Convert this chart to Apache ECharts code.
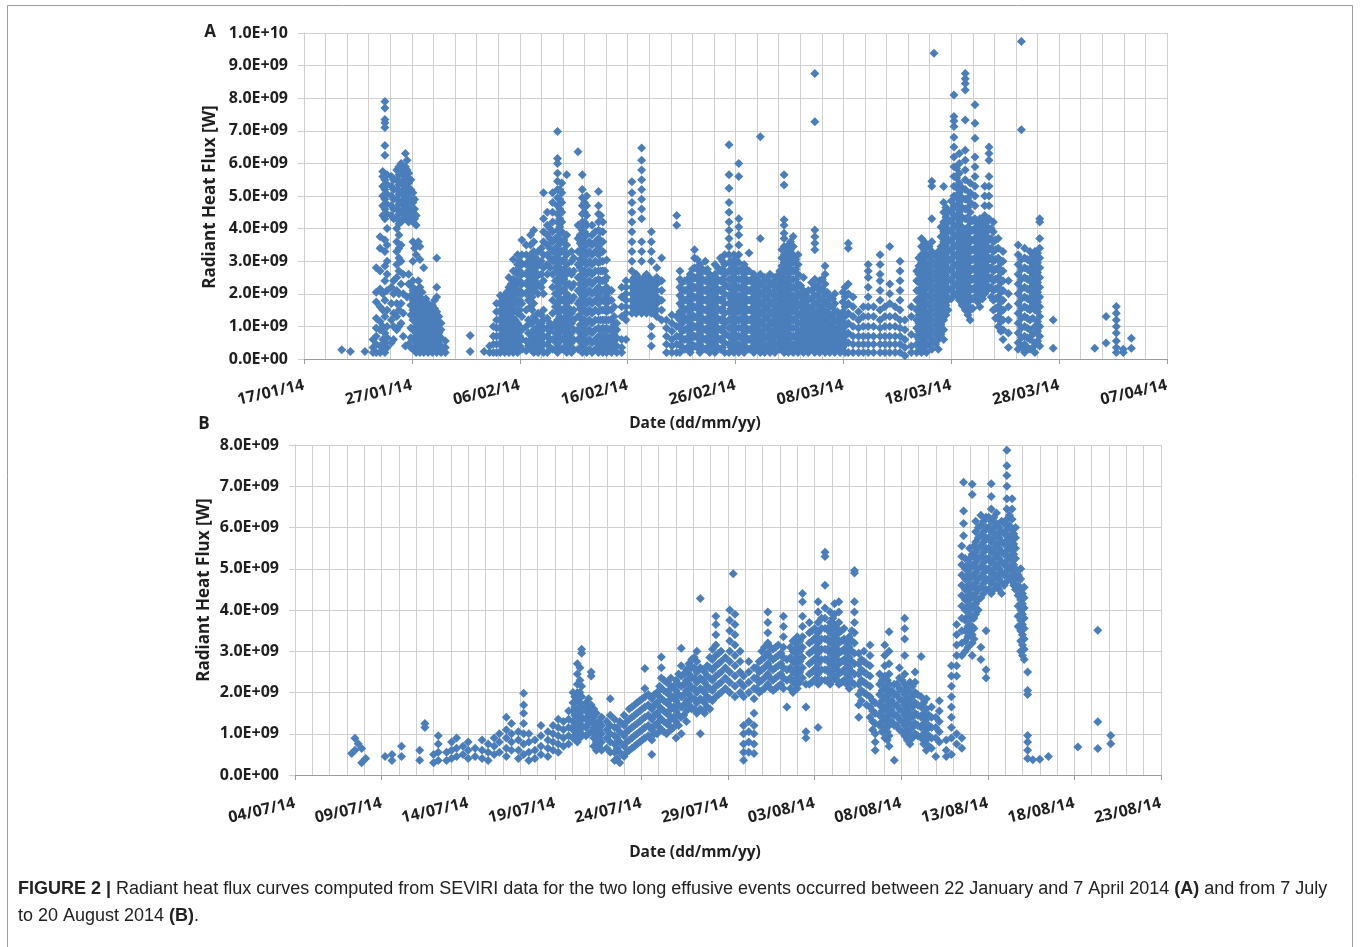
<!DOCTYPE html>
<html>
<head>
<meta charset="utf-8">
<script src="https://cdn.jsdelivr.net/npm/echarts@6/dist/echarts.min.js"></script>
<style>
  html, body { margin: 0; padding: 0; background: #ffffff; }
  #chart { width: 1360px; height: 947px; }
</style>
</head>
<body>
<div id="chart"></div>
<script>
// Radiant heat flux (SEVIRI) — values in units of 1e9 W.
// Each row: [days since axis start, flux value, flux value, ...]

// Panel A: axis starts 17/01/14
const fluxA_jan = [
  [3.5,0.28],[4.3,0.23],[5.65,0.23],
  [6.4,0.2,0.35,0.6],
  [6.7,0.2,0.45,0.7,0.95,1.25,1.75,2.05,2.8],
  [7.05,0.2,0.4,0.9,1.15,1.6,2.15,2.7,3.4,3.75],
  [7.3,0.3,0.6,1.0,1.5,2.0,4.4,4.7,5.0,5.3,5.6,5.75],
  [7.5,0.2,0.5,0.8,1.3,1.8,2.4,2.85,3.3,3.65,4.3,4.6,4.9,5.2,5.5,6.25,6.55,7.1,7.25,7.35,7.7,7.9],
  [7.7,0.35,0.65,1.0,1.5,2.1,2.6,3.0,3.5,4.0,4.45,4.75,5.05,5.35,5.65],
  [8.1,0.5,1.2,1.7,2.2,4.4,4.7,5.0,5.3,5.6],
  [8.3,0.6,1.0,1.4,2.0,2.4,4.3,4.6,4.9,5.2,5.5],
  [8.6,0.9,1.3,1.7,2.1,2.5,2.9,3.3,3.6,4.0,4.3,4.6,4.9,5.2,5.5,5.8],
  [8.8,1.0,1.5,2.0,2.7,3.1,3.4,3.8,4.15,4.45,4.75,5.05,5.35,5.65,5.9],
  [9.0,1.1,1.7,2.3,3.0,3.5,4.2,4.5,4.8,5.1,5.4,5.7,6.0],
  [9.2,0.7,1.4,2.0,2.6,4.3,4.6,4.9,5.2,5.5,5.8],
  [9.4,0.4,4.4,4.7,5.0,5.3,5.6,5.9,6.3],
  [9.55,1.9,4.3,4.6,4.9,5.2,5.5,5.8,6.1],
  [9.7,0.45,2.3,2.6,4.2,4.5,4.8,5.1,5.4,5.7],
  [9.9,0.35,0.65,0.95,1.35,1.65,1.95,2.25,4.3,4.6,4.9,5.2,5.5],
  [10.1,0.3,0.6,0.9,1.2,1.5,1.8,2.1,2.4,3.0,3.6,4.2,4.5,4.8,5.1],
  [10.25,0.35,0.65,0.95,1.25,1.55,1.85,2.15,3.4,4.3,4.6,4.9],
  [10.4,0.2,0.5,0.8,1.1,1.4,1.7,2.0,3.2,3.5,4.1,4.4],
  [10.6,0.3,0.6,0.9,1.2,1.5,1.8,2.1,2.4,3.6],
  [10.75,0.2,0.45,0.7,1.0,1.3,1.6,1.9,2.2,3.05,3.45],
  [10.95,0.3,0.55,0.85,1.15,1.45,1.75,2.05],
  [11.1,0.2,0.45,0.7,0.95,1.2,1.5,1.75,2.8],
  [11.3,0.3,0.55,0.85,1.1,1.35,1.6,1.85],
  [11.5,0.2,0.45,0.7,0.95,1.2,1.45,1.7],
  [11.7,0.3,0.55,0.8,1.05,1.3,1.55],
  [11.9,0.2,0.4,0.65,0.9,1.15,1.4,1.65],
  [12.1,0.3,0.55,0.8,1.05,1.3,1.55,1.8],
  [12.3,0.2,0.45,0.7,0.95,1.2,1.45,1.9,2.2,3.1],
  [12.5,0.3,0.55,0.8,1.05,1.3],
  [12.7,0.2,0.4,0.65,0.9,1.1],
  [13.1,0.2,0.35,0.55],
  [15.4,0.23,0.72],[16.7,0.23]
];

const fluxA_feb = [
  [17.2,0.2,0.4],
  [17.55,0.2,0.45,0.7,1.0],
  [17.85,0.2,0.45,0.7,0.95,1.2,1.45,1.7],
  [18.2,0.2,0.45,0.7,0.95,1.2,1.45,1.7,1.95],
  [18.4,0.3,0.55,0.8,1.05,1.3,1.55,1.8],
  [18.6,0.2,0.45,0.7,0.95,1.2,1.45,1.7,1.95],
  [18.8,0.3,0.55,0.8,1.05,1.3,1.55,1.8,2.05],
  [19.0,0.2,0.45,0.7,0.95,1.2,1.45,1.7,1.95,2.2,2.5],
  [19.2,0.3,0.55,0.8,1.05,1.3,1.55,1.8,2.05,2.3],
  [19.4,0.2,0.45,0.7,0.95,1.2,1.45,1.7,1.95,2.2,2.45,2.7,3.05],
  [19.6,0.3,0.6,0.9,1.2,1.5,1.8,2.1,2.4,2.7],
  [19.8,0.2,0.5,0.8,1.1,1.4,1.7,2.0,2.3,2.6,2.9,3.2],
  [20.0,0.4,0.7,1.0,1.5,1.8,2.1,2.4,2.7,3.0],
  [20.2,0.3,0.6,0.9,1.3,1.7,2.0,2.3,2.6,2.9,3.2,3.65],
  [20.6,0.25,0.55,1.0,1.5,2.0,2.3,2.6,2.9,3.2,3.5],
  [20.8,0.4,0.8,1.2,1.8,2.1,2.4,2.7,3.0],
  [21.0,0.3,0.6,1.1,1.6,2.0,2.3,2.6,2.9,3.2,3.5,3.8],
  [21.15,0.4,0.7,1.1,1.5,1.9,2.2,2.5,2.8,3.1],
  [21.3,0.2,0.5,0.9,1.3,1.7,2.1,2.4,2.7,3.0,3.3,3.6,3.95],
  [21.5,0.3,0.6,0.85,1.2,2.2,2.5,2.8,3.1],
  [21.7,0.2,0.45,0.7,1.0,1.4,2.0,2.3,2.6,2.9,3.3],
  [22.0,0.3,0.6,0.85,1.1,1.35,2.2,2.6,3.0,3.4],
  [22.2,0.2,0.45,0.7,0.95,1.2,1.5,2.0,2.4,2.8,3.2,3.6,3.9,4.3,5.1],
  [22.55,0.2,0.45,0.7,0.95,1.25,2.6,2.9,3.2,3.5,3.8,4.1,4.5],
  [22.8,0.35,0.6,0.85,1.1,2.8,3.1,3.4,3.7,4.0],
  [23.05,0.3,0.6,1.0,1.4,1.8,2.2,2.6,3.0,3.3,3.6,3.9,4.2,4.5,4.8,5.1],
  [23.3,0.3,0.55,0.8,1.1,1.6,2.0,2.4,2.8,3.1,3.4,3.7],
  [23.5,0.2,0.45,0.7,0.95,1.2,1.45,1.7,1.95,2.2,2.45,2.7,2.95,3.2,3.45,3.7,3.95,4.2,4.45,4.7,4.95,5.2,5.45,5.7,6.0,6.15,6.98],
  [23.7,0.3,0.55,0.8,1.05,1.3,1.55,1.8,2.05,2.3,2.55,2.8,3.05,3.3,3.55,3.8,4.05,4.3,4.6,4.9,5.2],
  [23.9,0.3,0.6,0.9,1.2,1.5,1.8,2.1,2.4,2.7,3.0,3.3,3.6,3.9,4.2,4.5,4.8,5.1,5.4],
  [24.1,0.35,0.65,0.95,1.25,1.55,1.85,2.15,2.45,2.75,3.05,3.35,3.65],
  [24.35,0.2,0.5,0.8,1.1,1.4,1.7,2.0,2.3,2.6,2.9,3.2,3.5,3.8,5.65],
  [24.6,0.35,0.65,0.95,1.25,1.55,1.9,2.3,2.7],
  [24.8,0.2,0.5,0.8,1.1,1.4,1.8,2.2,2.6,3.0,3.3],
  [25.0,0.3,0.6,0.9,1.2,1.5,1.9,2.3,2.7,3.1],
  [25.4,0.3,0.6,0.9,1.3,1.7,2.1,2.5,2.9,3.3,3.7,4.1,6.36],
  [25.6,0.3,0.55,0.8,1.05,1.3,1.55,1.8,2.05,2.3,2.55,2.8,3.05,3.3,3.55,3.8,4.05],
  [25.8,0.2,0.45,0.7,0.95,1.2,1.45,1.7,1.95,2.2,2.45,2.7,2.95,3.2,3.45,3.7,3.95,4.2,4.45,4.7,4.95,5.2,5.65],
  [26.0,0.3,0.6,0.9,1.2,1.5,1.8,2.1,2.4,2.7,3.0,3.3,3.6,3.9,4.2,4.5,4.8],
  [26.2,0.2,0.5,0.8,1.1,1.4,1.7,2.0,2.3,2.6,2.9,3.2,3.5,3.8,4.1,4.4,4.7,5.0],
  [26.45,0.3,0.6,0.9,1.2,1.5,1.8,2.1,2.4,2.7,3.0,3.3,3.6],
  [26.7,0.2,0.5,0.8,1.1,1.4,1.7,2.0,2.3,2.6,2.9,3.2,3.5,3.8,4.1],
  [27.0,0.3,0.6,0.9,1.2,1.5,1.8,2.1,2.4,2.7,3.0,3.3,3.6,3.9],
  [27.3,0.2,0.45,0.7,0.95,1.2,1.45,1.7,1.95,2.2,2.45,2.7,2.95,3.2,3.45,3.7,3.95,4.2,4.45,4.7,5.14],
  [27.5,0.3,0.6,0.9,1.2,1.5,1.8,2.1,2.4,2.7,3.0,3.3,3.6,3.9,4.4],
  [27.7,0.2,0.45,0.7,0.95,1.2,1.5,1.8,2.1,2.4,2.7,3.0,3.3,3.6,3.9,4.2],
  [27.9,0.3,0.6,0.9,1.2,1.5,1.8,2.1,2.4,2.7],
  [28.05,0.2,0.45,0.7,0.95,1.2,1.45,1.7,1.95,2.2,2.5,3.04],
  [28.25,0.3,0.6,0.9,1.2,1.5,1.8,2.1],
  [28.5,0.2,0.45,0.7,0.95,1.2,1.5,1.8,2.1],
  [28.75,0.3,0.55,0.8,1.05,1.3,1.6],
  [29.0,0.2,0.4,0.65,0.9,1.1],
  [29.45,0.2,0.35,0.6,1.3,1.6,1.9,2.2],
  [29.85,0.6,1.2,1.4,1.6,1.8,2.0,2.2,2.4],
  [30.4,1.4,1.6,1.8,2.0,2.2,2.4,2.7,3.0,3.3,3.6,3.9,4.2,4.5,4.8,5.1,5.44],
  [30.6,1.5,1.7,1.9,2.1,2.3,2.5],
  [30.8,1.4,1.6,1.8,2.0,2.2,2.4,2.6],
  [31.0,1.5,1.7,1.9,2.1,2.3,2.5],
  [31.3,1.4,1.6,1.8,2.0,2.2,2.4,3.0,3.3,3.6,4.3,4.6,4.9,5.2,5.5,5.8,6.1,6.47],
  [31.5,1.5,1.7,1.9,2.1,2.3,2.5],
  [31.75,1.4,1.6,1.8,2.0,2.2,2.4,2.6],
  [32.0,1.5,1.7,1.9,2.1,2.3,2.5],
  [32.2,0.4,0.7,1.0,1.4,1.6,1.8,2.0,2.2,2.4,3.0,3.3,3.6,3.9],
  [32.45,1.4,1.6,1.8,2.0,2.2,2.4],
  [32.7,1.3,1.5,1.7,1.9,2.1,2.3,2.5,2.8],
  [33.15,1.2,1.5,1.8,2.1,2.4,3.1],
  [33.6,0.2,0.45,0.7,0.95,1.2],
  [34.1,0.2,0.4,0.6,0.85,1.1,1.35],
  [34.55,0.2,0.45,0.7,1.0,1.3,4.1,4.4]
];

const fluxA_mar = [
  [34.85,0.2,0.45,0.7,0.95,1.2,1.45,1.7,1.95,2.2,2.45,2.7],
  [35.05,0.35,0.6,0.85,1.1,1.35,1.6,1.85,2.1,2.35],
  [35.3,0.3,0.6,0.9,1.2,1.5,1.8,2.1,2.4],
  [35.55,0.35,0.65,0.95,1.25,1.55,1.85,2.15,2.45],
  [35.8,0.2,0.5,0.8,1.1,1.4,1.7,2.0,2.3,2.6],
  [36.0,0.35,0.65,0.95,1.25,1.55,1.85,2.15,2.45,2.75],
  [36.2,0.4,0.7,1.0,1.3,1.6,1.9,2.2,2.5,2.8,3.1,3.35],
  [36.45,0.35,0.65,0.95,1.25,1.55,1.85,2.15,2.45,2.75,3.05],
  [36.7,0.2,0.5,0.8,1.1,1.4,1.7,2.0,2.3,2.6,2.9],
  [36.95,0.35,0.65,0.95,1.25,1.55,1.85,2.15,2.45,2.75],
  [37.2,0.3,0.6,0.9,1.2,1.5,1.8,2.1,2.4,2.7,3.0],
  [37.4,0.35,0.65,0.95,1.25,1.55,1.85,2.15,2.45,2.75],
  [37.6,0.2,0.5,0.8,1.1,1.4,1.7,2.0,2.3,2.6],
  [37.85,0.35,0.65,0.95,1.25,1.55,1.85,2.15,2.45],
  [38.1,0.2,0.5,0.8,1.1,1.4,1.7,2.0,2.3,2.6,2.9],
  [38.35,0.35,0.65,0.95,1.25,1.55,1.85,2.15,2.45,2.8],
  [38.6,0.3,0.6,0.9,1.2,1.5,1.8,2.1,2.4,2.7,3.1],
  [38.8,0.35,0.65,0.95,1.25,1.55,1.85,2.15,2.45,2.75,3.0],
  [39.0,0.2,0.5,0.8,1.1,1.4,1.7,2.0,2.3,2.6,2.9,3.2],
  [39.4,0.2,0.45,0.7,0.95,1.2,1.45,1.7,1.95,2.2,2.45,2.7,2.95,3.2,3.45,3.7,3.95,4.2,4.5,4.8,5.24,5.65,6.57],
  [39.6,0.35,0.65,0.95,1.25,1.55,1.85,2.15,2.45,2.75,3.0],
  [39.85,0.2,0.5,0.8,1.1,1.4,1.7,2.0,2.3,2.6,2.9,3.2],
  [40.05,0.35,0.65,0.95,1.25,1.55,1.85,2.15,2.45,2.75,3.05],
  [40.3,0.2,0.45,0.7,0.95,1.2,1.45,1.7,1.95,2.2,2.45,2.7,2.95,3.2,3.5,3.8,4.05,4.3,5.6,6.0],
  [40.55,0.35,0.65,0.95,1.25,1.55,1.85,2.15,2.45,2.75],
  [40.8,0.2,0.5,0.8,1.1,1.4,1.7,2.0,2.3,2.6,2.9],
  [41.0,0.35,0.65,0.95,1.25,1.55,1.85,2.15,2.45,2.75],
  [41.25,0.3,0.6,0.9,1.2,1.5,1.8,2.1,2.4,2.7,3.25],
  [41.5,0.35,0.65,0.95,1.25,1.55,1.85,2.15,2.45],
  [41.7,0.2,0.5,0.8,1.1,1.4,1.7,2.0,2.3,2.6],
  [42.0,0.35,0.65,0.95,1.25,1.55,1.85,2.15,2.45],
  [42.3,0.2,0.5,0.8,1.1,1.4,1.7,2.0,2.3,2.6,3.7,6.82],
  [42.5,0.35,0.6,0.85,1.15,1.45,1.75,2.05,2.35],
  [42.7,0.2,0.45,0.7,1.0,1.3,1.6,1.9,2.2,2.5],
  [42.95,0.35,0.65,0.95,1.25,1.55,1.85,2.15,2.45],
  [43.2,0.2,0.5,0.8,1.1,1.4,1.7,2.0,2.3,2.6],
  [43.45,0.35,0.6,0.85,1.15,1.45,1.75,2.05,2.35],
  [43.65,0.2,0.45,0.7,1.0,1.3,1.6,1.9,2.2,2.5],
  [43.9,0.45,0.75,1.05,1.35,1.65,1.95,2.25,2.55],
  [44.1,0.3,0.6,0.9,1.2,1.5,1.8,2.1,2.4,2.7],
  [44.3,0.35,0.6,0.85,1.1,1.35,1.6,1.85,2.1,2.35,2.6,2.85,3.1,3.35],
  [44.5,0.2,0.45,0.7,0.95,1.2,1.45,1.7,1.95,2.2,2.45,2.7,2.95,3.2,3.45,3.7,3.86,4.1,4.27,5.34,5.65],
  [44.7,0.35,0.65,0.95,1.25,1.55,1.85,2.15,2.45,2.75,3.05,3.35],
  [44.9,0.2,0.5,0.8,1.1,1.4,1.7,2.0,2.3,2.6,2.9,3.2,3.5],
  [45.1,0.35,0.65,0.95,1.25,1.55,1.85,2.15,2.45,2.75,3.05,3.35,3.6],
  [45.35,0.2,0.45,0.7,0.95,1.2,1.45,1.7,1.95,2.2,2.45,2.7,2.95,3.2,3.45,3.76],
  [45.6,0.35,0.65,0.95,1.25,1.55,1.85,2.15,2.45,2.75,3.05],
  [45.8,0.2,0.5,0.8,1.1,1.4,1.7,2.0,2.3,2.6,2.9,3.2],
  [46.05,0.35,0.6,0.85,1.1,1.35,1.65,1.95,2.25],
  [46.3,0.2,0.45,0.7,0.95,1.2,1.5,1.8,2.1,2.5],
  [46.55,0.35,0.6,0.85,1.1,1.35,1.65,1.95],
  [46.75,0.2,0.45,0.7,0.95,1.2,1.5,1.8,2.1],
  [47.05,0.35,0.6,0.85,1.1,1.35,1.6,1.85,2.1,2.35],
  [47.35,0.2,0.45,0.7,0.95,1.2,1.45,1.7,1.95,2.2,2.45,3.35,3.55,3.75,3.96,7.28,8.76],
  [47.6,0.35,0.6,0.85,1.1,1.35,1.65,1.95,2.25],
  [47.8,0.2,0.45,0.7,0.95,1.2,1.5,1.8,2.1,2.4],
  [48.05,0.35,0.6,0.85,1.1,1.35,1.6,1.85,2.15,2.45],
  [48.3,0.2,0.45,0.7,0.95,1.2,1.45,1.7,2.0,2.3,2.6,2.85],
  [48.5,0.35,0.6,0.85,1.15,1.45,1.75,2.05],
  [48.75,0.2,0.45,0.7,1.0,1.3,1.6,1.9],
  [49.0,0.35,0.6,0.85,1.1,1.35,1.6,1.85],
  [49.2,0.2,0.45,0.7,0.95,1.2,1.45,1.7,2.0],
  [49.45,0.35,0.6,0.85,1.15,1.45],
  [49.7,0.2,0.45,0.7,1.0,1.3],
  [49.95,0.35,0.6,0.85,1.15,1.45,1.75,2.05],
  [50.15,0.2,0.45,0.7,1.0,1.3,1.6,1.9,2.2],
  [50.45,0.2,0.5,0.8,1.1,1.4,1.7,2.0,2.3,3.4,3.55],
  [50.9,0.2,0.45,0.7,1.0,1.3,1.6,1.9],
  [51.4,0.2,0.45,0.7,0.95,1.2,1.45],
  [51.85,0.2,0.45,0.7,1.0,1.3,1.6],
  [52.3,0.2,0.45,0.7,1.0,1.3,1.6,1.9,2.2,2.5,2.7,2.9],
  [52.8,0.2,0.45,0.7,1.0,1.3,1.6],
  [53.4,0.2,0.45,0.7,0.95,1.2,1.5,1.8,2.1,2.4,2.6,2.9,3.2],
  [53.85,0.2,0.45,0.7,1.0,1.3,1.6],
  [54.3,0.2,0.45,0.7,1.0,1.3,1.7,2.0,2.3,3.45],
  [54.8,0.2,0.45,0.7,1.0,1.3,1.6],
  [55.25,0.2,0.45,0.7,0.95,1.2,1.5,1.8,2.1,2.4,2.7,3.0],
  [55.7,0.1,0.35,0.6,0.9,1.2]
];

const fluxA_apr = [
  [56.3,0.2,0.4,0.75,1.3,1.6],
  [56.8,0.2,0.45,0.7,0.95,1.2,1.5,1.8,2.1,2.4,2.7],
  [57.0,0.35,0.6,0.85,1.1,1.35,1.6,1.85,2.1,2.35,2.6,2.85,3.1],
  [57.25,0.2,0.45,0.7,0.95,1.2,1.45,1.7,1.95,2.2,2.45,2.7,2.95,3.2,3.45,3.7],
  [57.5,0.35,0.6,0.85,1.1,1.35,1.6,1.85,2.1,2.35,2.6,2.85,3.1,3.35,3.6],
  [57.7,0.2,0.45,0.7,0.95,1.2,1.45,1.7,1.95,2.2,2.45,2.7,2.95,3.2,3.5],
  [57.95,0.45,0.75,1.05,1.35,1.65,1.95,2.25,2.55,2.85,3.15,3.45],
  [58.2,0.3,0.6,0.9,1.2,1.5,1.8,2.1,2.4,2.7,3.0,3.3,3.6,4.3,5.3,5.45],
  [58.4,9.38],
  [58.55,0.45,0.75,1.05,1.35,1.65,1.95,2.25,2.55,2.85,3.15],
  [58.8,0.3,0.6,0.9,1.2,1.5,1.8,2.1,2.4,2.7,3.0,3.3],
  [59.05,0.75,1.05,1.35,1.65,1.95,2.25,2.55,2.85,3.15,3.45,3.75,4.05],
  [59.3,0.6,0.9,1.2,1.5,1.8,2.1,2.4,2.7,3.0,3.3,3.6,3.9,4.2,4.5,4.8,5.29],
  [59.5,1.35,1.65,1.95,2.25,2.55,2.85,3.15,3.45,3.75,4.05,4.35,4.65],
  [59.7,1.5,1.8,2.1,2.4,2.7,3.0,3.3,3.6,3.9,4.2,4.5],
  [60.0,1.85,2.15,2.45,2.75,3.05,3.35,3.65,3.95,4.25,4.55,4.85],
  [60.25,2.0,2.3,2.6,2.9,3.2,3.5,3.8,4.1,4.4,4.7,5.0,5.3,5.6,5.9,6.2,6.5,6.8,7.13,7.3,7.44,8.1],
  [60.5,1.95,2.25,2.55,2.85,3.15,3.45,3.75,4.05,4.35,4.65,4.95,5.25,5.55,5.85],
  [60.75,1.8,2.1,2.4,2.7,3.0,3.3,3.6,3.9,4.2,4.5,4.8,5.1,5.4,5.7,6.0,6.3],
  [61.0,1.65,1.95,2.25,2.55,2.85,3.15,3.45,3.75,4.05,4.35,4.65,4.95,5.25],
  [61.3,1.5,1.8,2.1,2.4,2.7,3.0,3.3,3.6,3.9,4.3,4.6,4.9,5.2,5.5,5.8,6.1,6.4,7.33,8.25,8.45,8.6,8.76],
  [61.55,1.35,1.65,1.95,2.25,2.55,2.85,3.15,3.45,3.75,4.05,4.35,4.65,4.95],
  [61.75,1.2,1.5,1.8,2.1,2.4,2.7,3.0,3.3,3.6,3.9,4.2,4.5,4.8,5.1,5.4],
  [62.0,1.55,1.85,2.15,2.45,2.75,3.05,3.35,3.65,3.95,4.25],
  [62.2,1.9,2.2,2.5,2.8,3.1,3.4,3.7,4.0,4.3,4.7,5.0,5.3,5.6,5.9,6.2,6.77,7.23,7.8],
  [62.45,1.75,2.05,2.35,2.65,2.95,3.25,3.55,3.85,4.15],
  [62.65,1.6,1.9,2.2,2.5,2.8,3.1,3.4,3.7,4.0,4.3],
  [62.9,1.85,2.15,2.45,2.75,3.05,3.35,3.65,3.95,4.25],
  [63.1,2.0,2.3,2.6,2.9,3.2,3.5,3.8,4.1,4.4,4.7,5.0,5.3],
  [63.3,2.1,2.4,2.7,3.0,3.3,3.6,3.9,4.2],
  [63.5,2.2,2.5,2.8,3.1,3.4,3.7,4.0,4.3,4.7,5.0,5.3,5.6,6.1,6.3,6.5],
  [63.7,1.9,2.2,2.5,2.8,3.1,3.4,3.7,4.0],
  [63.9,1.5,1.8,2.1,2.4,2.7,3.0,3.3,3.6,3.9,4.2],
  [64.1,1.25,1.55,1.85,2.15,2.45,2.75,3.05,3.35,3.65],
  [64.35,1.0,1.3,1.6,1.9,2.2,2.5,2.8,3.1,3.4,3.7],
  [64.6,0.85,1.15,1.45,1.75,2.05,2.35,2.65,2.95],
  [64.8,0.6,0.9,1.2,1.5,1.8,2.1,2.4,2.7,3.0,3.3],
  [65.3,0.35,0.8,1.2,1.6,2.0,2.4],
  [66.2,0.3,0.5,0.8,1.1,1.4,1.7,2.0,2.3,2.6,2.9,3.2,3.5],
  [66.5,0.35,0.65,0.95,1.25,1.55,1.85,2.15,2.45,2.75,3.05,7.03,9.74],
  [66.8,0.2,0.45,0.7,1.0,1.3,1.6,1.9,2.2,2.5,2.8,3.1,3.4],
  [67.05,0.35,0.65,0.95,1.25,1.55,1.85,2.15,2.45,2.75,3.05],
  [67.3,0.3,0.6,0.9,1.2,1.5,1.8,2.1,2.4,2.7,3.0,3.3],
  [67.55,0.35,0.75,1.25,1.65,1.95,2.25,2.55,2.85,3.15],
  [67.75,0.2,0.5,1.0,1.5,1.8,2.1,2.4,2.7,3.0,3.3],
  [68.0,0.55,0.85,1.15,1.45,1.75,2.05,2.35,2.65,2.95,3.25],
  [68.2,0.4,0.7,1.0,1.3,1.6,1.9,2.2,2.5,2.8,3.1,3.4,3.7,4.2,4.3],
  [69.45,0.33,1.2],
  [73.3,0.33],
  [74.35,0.49,1.3],
  [75.3,0.2,0.35,0.55,0.8,1.0,1.2,1.4,1.61],
  [75.95,0.2,0.3],
  [76.7,0.33,0.64]
];

// Panel B: axis starts 04/07/14
const fluxB_jul = [
  [3.27,0.52],[3.46,0.89,0.6],[3.65,0.76],[3.85,0.64,0.3],[4.08,0.4],
  [5.2,0.45],[5.6,0.35,0.5],[6.15,0.45,0.7],
  [7.2,0.36,0.6],[7.5,1.25,1.15],
  [8.0,0.3,0.5],[8.27,0.35,0.55,0.75,0.95],
  [8.75,0.35,0.55],[9.04,0.4,0.6,0.8],[9.33,0.45,0.9,0.65],
  [9.7,0.5,0.7],[10.0,0.4,0.6,0.8],[10.4,0.45,0.65],
  [10.8,0.4,0.6,0.85],[11.15,0.35,0.55,0.75],[11.5,0.5,0.7,0.9],
  [11.8,0.55,0.8,1.0],[12.2,0.45,0.65,0.9,1.1,1.4],
  [12.5,0.6,0.8,1.0,1.25],[12.9,0.4,0.6,0.85,1.05],
  [13.2,0.5,0.75,1.0,1.25,1.5,1.7,1.98],
  [13.5,0.35,0.55,0.8,1.0],[13.85,0.4,0.6,0.85],
  [14.2,0.5,0.7,0.95,1.2],[14.6,0.45,0.65,0.85,1.05],
  [14.9,0.6,0.8,1.0,1.2],[15.2,0.55,0.75,0.95,1.15,1.35],
  [15.5,0.7,0.9,1.1,1.3],[15.8,0.75,0.95,1.15,1.35,1.55],
  [16.05,0.9,1.1,1.3,1.55,1.75,2.0],
  [16.15,0.95,1.2,1.45,1.65,1.9],
  [16.3,0.8,1.0,1.2,1.4,1.6,1.8,2.0,2.2,2.45,2.7],
  [16.45,0.9,1.1,1.3,1.5,1.75,2.0,2.3,2.6],
  [16.55,1.0,1.2,1.4,1.65,1.9,2.15,2.95,3.05],
  [16.8,0.95,1.15,1.35,1.55,1.75],
  [16.95,1.0,1.25,1.45,1.65,1.85],
  [17.1,1.05,1.3,1.5,1.7,2.5,2.4],
  [17.25,0.7,0.9,1.15,1.4,1.6],
  [17.4,0.6,0.8,1.0,1.25,1.5],
  [17.55,0.7,0.9,1.1,1.3],
  [17.7,0.6,0.8,1.0,1.2,1.4],
  [18.0,0.65,0.9,1.1,1.3],
  [18.2,0.55,0.8,1.0,1.2,1.45,1.85],
  [18.45,0.35,0.55,0.75,0.95,1.15,1.35],
  [18.6,0.4,0.65,0.9,1.15],
  [18.75,0.3,0.55,0.8,1.05,1.3],
  [19.0,0.45,0.7,0.95,1.2,1.45],
  [19.15,0.55,0.8,1.05,1.3],
  [19.3,0.6,0.85,1.1,1.35,1.6],
  [19.45,0.65,0.9,1.15,1.4,1.65],
  [19.6,0.7,0.95,1.2,1.45,1.7],
  [19.75,0.75,1.0,1.25,1.5,1.75],
  [19.9,0.8,1.05,1.3,1.55,1.8],
  [20.05,0.85,1.1,1.35,1.6,1.85],
  [20.2,0.9,1.15,1.4,1.65,1.9,2.1,2.58],
  [20.4,0.95,1.2,1.45,1.7,1.95],
  [20.6,0.5,0.85,1.1,1.35,1.6,1.85],
  [20.75,1.0,1.2,1.45,1.7,1.95],
  [20.9,1.0,1.25,1.5,1.75,2.0],
  [21.05,1.15,1.4,1.65,1.9,2.15],
  [21.15,1.1,1.35,1.6,1.85,2.1,2.35,2.6,2.86],
  [21.3,1.05,1.3,1.55,1.8,2.05,2.3],
  [21.45,1.0,1.25,1.5,1.75,2.0,2.25],
  [21.6,1.2,1.45,1.7,1.95,2.2],
  [21.7,1.1,1.35,1.6,1.85,2.1,2.35],
  [21.85,1.15,1.4,1.65,1.9,2.15],
  [22.0,0.9,1.3,1.55,1.8,2.05,2.3],
  [22.15,1.2,1.45,1.7,1.95,2.2,2.45],
  [22.3,1.0,1.4,1.65,1.9,2.15,2.4,2.65,3.07],
  [22.45,1.45,1.7,1.95,2.2,2.45],
  [22.6,1.3,1.55,1.8,2.05,2.3,2.55],
  [22.75,1.7,1.95,2.2,2.45,2.7],
  [22.9,1.6,1.85,2.1,2.35,2.6,2.8],
  [23.05,1.6,1.85,2.1,2.35,2.6,2.85],
  [23.2,1.5,1.75,2.0,2.25,2.5,2.75,3.0],
  [23.4,1.0,1.6,1.85,2.1,2.35,2.6,4.28],
  [23.55,1.55,1.8,2.05,2.3,2.55],
  [23.65,1.5,1.75,2.0,2.25,2.5],
  [23.8,1.65,1.9,2.15,2.4,2.65],
  [23.95,1.6,1.85,2.1,2.35,2.6,2.85],
  [24.1,1.8,2.05,2.3,2.55,2.8,3.05],
  [24.3,1.9,2.15,2.4,2.65,2.9,3.15,3.4,3.65,3.85],
  [24.45,1.95,2.2,2.45,2.7,2.95],
  [24.6,2.0,2.25,2.5,2.75,3.0],
  [24.85,2.1,2.35,2.6,2.85],
  [25.1,2.0,2.25,2.5,2.75,3.0,3.25,3.5,3.75,4.0]
];

const fluxB_aug = [
  [25.3,4.88],
  [25.4,1.9,2.15,2.4,2.65,2.9,3.15,3.4,3.65,3.9],
  [25.7,2.0,2.25,2.5,2.75,3.0],
  [25.9,0.36,0.55,0.75,1.0,1.2,1.9,2.15,2.4],
  [26.2,0.55,0.8,1.05,1.3,2.0,2.25,2.5,2.75],
  [26.5,0.52,0.75,1.0,1.2,1.5,1.85,2.1,2.35,2.6],
  [26.65,2.1,2.35,2.6],
  [26.8,2.0,2.25,2.5,2.75],
  [26.95,2.05,2.3,2.55,2.8,3.0],
  [27.1,2.1,2.35,2.6,2.85,3.1],
  [27.3,2.2,2.45,2.7,2.95,3.2,3.45,3.7,3.95],
  [27.45,2.1,2.35,2.6,2.85,3.1],
  [27.6,2.05,2.3,2.55,2.8,3.05],
  [27.75,2.1,2.35,2.6,2.85,3.1],
  [27.9,2.15,2.4,2.65,2.9,3.15],
  [28.05,2.2,2.45,2.7,2.95],
  [28.2,2.1,2.35,2.6,2.85,3.1,3.35,3.6,3.85],
  [28.4,1.65,2.3,2.55,2.8],
  [28.6,2.1,2.35,2.6,2.85,3.1],
  [28.75,2.0,2.25,2.5,2.75,3.0,3.25],
  [28.9,2.2,2.45,2.7,2.95,3.2],
  [29.0,2.1,2.35,2.6,2.85,3.1,3.35],
  [29.15,2.25,2.5,2.75,3.0,3.25],
  [29.3,2.35,2.6,2.85,3.1,3.35,3.6,3.85,4.2,4.4],
  [29.5,0.9,1.05,1.65,2.2],
  [29.7,2.2,2.45,2.7,2.95,3.2,3.45,3.7],
  [29.85,2.25,2.5,2.75,3.0,3.25,3.5],
  [30.0,2.3,2.55,2.8,3.05,3.3,3.55],
  [30.1,2.35,2.6,2.85,3.1,3.35],
  [30.2,1.15,2.2,2.45,2.7,2.95,3.2,3.45,3.7,3.95,4.2],
  [30.4,2.3,2.55,2.8,3.05,3.3,3.55,3.8],
  [30.6,2.3,2.55,2.8,3.05,3.3,3.55,3.8,4.05,4.6,5.3,5.4],
  [30.75,2.3,2.55,2.8,3.05,3.3,3.55],
  [30.9,2.2,2.45,2.7,2.95,3.2,3.45,3.7,3.95],
  [31.05,2.3,2.55,2.8,3.05,3.3,3.55,3.8],
  [31.15,2.4,2.65,2.9,3.15,3.4,3.65,3.9,4.15],
  [31.3,2.3,2.55,2.8,3.05,3.3,3.55],
  [31.4,2.2,2.45,2.7,2.95,3.2,3.45,3.7,3.95,4.2],
  [31.55,2.25,2.5,2.75,3.0,3.25,3.5],
  [31.7,2.3,2.55,2.8,3.05,3.3,3.55],
  [31.85,2.2,2.45,2.7,2.95,3.2],
  [32.0,2.1,2.35,2.6,2.85,3.1,3.35],
  [32.15,2.25,2.5,2.75,3.0,3.25,3.5],
  [32.3,2.2,2.45,2.7,2.95,3.2,3.45,3.7,3.95,4.2,4.9,4.96],
  [32.55,1.4,1.7,1.95,2.2,2.45,2.7,2.95],
  [32.7,1.8,2.05,2.3,2.55,2.8],
  [32.85,2.0,2.25,2.5,2.75,3.0],
  [33.0,1.7,1.95,2.2,2.45,2.7],
  [33.2,1.4,1.65,1.9,2.15,2.4,2.65,2.9,3.15],
  [33.35,1.1,1.3,1.55,1.8],
  [33.5,0.6,0.8,1.0,1.25,1.5,1.75],
  [33.75,1.2,1.45,1.7,1.95,2.2,2.45],
  [33.9,1.05,1.3,1.55,1.8,2.05,2.3],
  [34.05,0.9,1.15,1.4,1.65,1.9,2.15,2.4,2.65,2.9,3.15],
  [34.2,0.85,1.05,1.3,1.55,1.8,2.05,2.3],
  [34.3,0.7,0.95,1.2,1.45,1.7,1.95,2.2,2.45,2.7,3.0,3.47],
  [34.45,1.3,1.55,1.8,2.05],
  [34.6,0.36,1.2,1.45,1.7,1.95,2.2],
  [34.75,1.2,1.45,1.7,1.95,2.2],
  [34.9,1.1,1.35,1.6,1.85,2.1,2.35,2.6],
  [35.05,1.05,1.3,1.55,1.8,2.05,2.3],
  [35.2,0.95,1.2,1.45,1.7,1.95,2.2,2.45,2.9,3.3,3.55,3.8],
  [35.35,0.85,1.1,1.35,1.6,1.85,2.1],
  [35.5,0.75,1.0,1.25,1.5,1.75,2.0,2.25],
  [35.65,0.9,1.15,1.4,1.65,1.9,2.15],
  [35.8,1.0,1.25,1.5,1.75,2.0,2.25,2.5],
  [35.95,0.95,1.2,1.45,1.7,1.95],
  [36.15,0.9,1.15,1.4,1.65,1.9,2.87],
  [36.3,0.75,1.0,1.25,1.5,1.75],
  [36.45,0.6,0.85,1.1,1.35,1.6,1.85],
  [36.6,0.7,0.95,1.2,1.45],
  [36.75,0.65,0.9,1.15,1.4,1.65],
  [37.0,0.45,0.9,1.15,1.4],
  [37.2,0.8,1.05,1.3,1.55,1.8],
  [37.6,0.45,0.6,0.85],
  [37.9,0.5,0.9,1.15,1.4,1.65,1.9,2.15,2.4,2.65],
  [38.2,0.75,1.0,2.4,2.65,2.9,3.15,3.4,3.65],
  [38.5,0.65,0.9,2.9,3.2,3.5,3.8,4.1,4.35,4.6,4.85,5.1,5.3,5.55],
  [38.6,5.8,6.1,6.4,7.1],
  [38.7,3.0,3.25,3.5,3.75,4.0,4.25,4.5,4.75,5.0,5.25],
  [38.85,3.1,3.35,3.6,3.85,4.1,4.35,4.6,4.85,5.1],
  [38.95,3.5,3.75,4.0,4.25,4.5,4.75,5.0,5.25,5.5],
  [39.1,2.9,3.2,3.4,3.6,3.85,4.1,4.35,4.6,4.85,5.1,5.35,6.8,7.05],
  [39.2,3.3,3.55,3.8,4.05,4.3,4.55,4.8,5.05,5.3,5.55],
  [39.3,3.9,4.15,4.4,4.65,4.9,5.15,5.4,5.65,5.9,6.15],
  [39.45,4.0,4.25,4.5,4.75,5.0,5.25,5.5,5.75,6.0],
  [39.6,2.8,3.1,4.3,4.55,4.8,5.05,5.3,5.55,5.8,6.05,6.3],
  [39.75,4.4,4.65,4.9,5.15,5.4,5.65,5.9,6.15],
  [39.9,2.35,2.55,3.5,4.5,4.75,5.0,5.25,5.5,5.75,6.0,6.25],
  [40.05,4.5,4.75,5.0,5.25,5.5,5.75,6.0,6.25],
  [40.2,4.4,4.65,4.9,5.15,5.4,5.65,5.9,6.15,6.45,6.75,7.06],
  [40.35,4.5,4.75,5.0,5.25,5.5,5.75,6.0,6.25],
  [40.5,4.6,4.85,5.1,5.35,5.6,5.85,6.1,6.35],
  [40.65,4.5,4.75,5.0,5.25,5.5,5.75,6.0],
  [40.8,4.4,4.65,4.9,5.15,5.4,5.65,5.9,6.15],
  [40.95,4.6,4.85,5.1,5.35,5.6,5.85,6.1],
  [41.1,4.7,4.95,5.2,5.45,5.7,5.95,6.2,6.45,6.7,7.0,7.26,7.5,7.87],
  [41.25,4.8,5.05,5.3,5.55,5.8,6.05,6.3],
  [41.4,4.7,4.95,5.2,5.45,5.7,5.95,6.2,6.45,6.7],
  [41.5,4.6,4.85,5.1,5.35,5.6,5.85],
  [41.6,4.5,4.75,5.0,5.25,5.5,5.75,6.0],
  [41.75,3.6,3.85,4.1,4.35,4.6,4.85],
  [41.9,3.0,3.25,3.5,3.75,4.0,4.25,4.5,4.75,5.0],
  [42.0,2.9,3.15,3.4,3.65,3.9,4.15,4.4],
  [42.1,2.8,3.05,3.3,3.55,3.8,4.05,4.3,4.55],
  [42.3,0.4,0.6,0.8,0.96,1.95,2.05,2.5],
  [42.6,0.37],[43.0,0.38],[43.5,0.45],
  [45.2,0.68],
  [46.35,0.64,1.29,3.51],
  [47.1,0.76,0.96]
];

// Axis tick values (in 1e9 W)
const yTicksA = [0,1,2,3,4,5,6,7,8,9,10];
const yTicksB = [0,1,2,3,4,5,6,7,8];
const axisStartA = Date.UTC(2014, 0, 17);
const axisStartB = Date.UTC(2014, 6, 4);
const DAY_MS = 86400000;
const GIGA = 1e9;

function toPoints(rows) {
  const out = [];
  rows.forEach(r => { for (let i = 1; i < r.length; i++) out.push([r[0], r[i]]); });
  return out;
}

function sciLabel(v) {
  const s = (v * GIGA).toExponential(1);
  const parts = s.split('e');
  const sign = parts[1][0];
  const exp = parts[1].slice(1).padStart(2, '0');
  return parts[0] + 'E' + sign + exp;
}

function dateLabel(start) {
  return function (d) {
    const t = new Date(start + Math.round(d) * DAY_MS);
    const p = n => String(n).padStart(2, '0');
    return p(t.getUTCDate()) + '/' + p(t.getUTCMonth() + 1) + '/' + String(t.getUTCFullYear()).slice(2);
  };
}

const FONT = "'Open Sans', 'DejaVu Sans', sans-serif";
const TEXT_COLOR = '#1f1f1f';
const GRID_COLOR = '#cfcfcf';
const AXIS_COLOR = '#9c9c9c';
const MARK_COLOR = '#4a7ebb';

function xAxis(gridIndex, max, interval, start, margin) {
  return {
    type: 'value', gridIndex: gridIndex, min: 0, max: max, interval: interval,
    axisLine: { show: true, lineStyle: { color: AXIS_COLOR, width: 1 } },
    axisTick: { show: true, length: 5, inside: false, lineStyle: { color: AXIS_COLOR } },
    minorTick: { show: false, splitNumber: 5 },
    splitLine: { show: true, lineStyle: { color: GRID_COLOR, width: 1 } },
    minorSplitLine: { show: true, lineStyle: { color: GRID_COLOR, width: 1 } },
    axisLabel: {
      rotate: 13, margin: margin, formatter: dateLabel(start),
      fontFamily: FONT, fontWeight: 'bold', fontSize: 16, color: TEXT_COLOR,
      showMinLabel: true, showMaxLabel: true, hideOverlap: false
    }
  };
}

function yAxis(gridIndex, ticks) {
  return {
    type: 'value', gridIndex: gridIndex, min: ticks[0], max: ticks[ticks.length - 1], interval: 1,
    axisLine: { show: true, lineStyle: { color: GRID_COLOR, width: 1 } },
    axisTick: { show: true, length: 6, lineStyle: { color: GRID_COLOR } },
    splitLine: { show: true, lineStyle: { color: GRID_COLOR, width: 1 } },
    axisLabel: {
      margin: 16, formatter: sciLabel,
      fontFamily: FONT, fontWeight: 'bold', fontSize: 16, color: TEXT_COLOR,
      showMinLabel: true, showMaxLabel: true
    }
  };
}

function scatter(xi, data) {
  return {
    type: 'scatter', xAxisIndex: xi, yAxisIndex: xi, data: data,
    symbol: 'diamond', symbolSize: 9, silent: true, animation: false,
    itemStyle: { color: MARK_COLOR, opacity: 1 }
  };
}

function titleText(x, y, text, rot, size) {
  return {
    type: 'text', x: x, y: y, rotation: rot || 0, silent: true,
    style: { text: text, fontFamily: FONT, fontWeight: 'bold', fontSize: size || 14,
      fill: TEXT_COLOR, align: 'center', verticalAlign: 'middle' }
  };
}

const chart = echarts.init(document.getElementById('chart'), null, { renderer: 'canvas' });

const seriesA = [fluxA_jan, fluxA_feb, fluxA_mar, fluxA_apr].map(r => scatter(0, toPoints(r)));
const seriesB = [fluxB_jul, fluxB_aug].map(r => scatter(1, toPoints(r)));

const CAPTION_FONT = "'Liberation Sans', Arial, sans-serif";

chart.setOption({
  animation: false,
  backgroundColor: '#ffffff',
  grid: [
    { left: 304, top: 33, width: 863, height: 326, outerBoundsMode: 'none', containLabel: false },
    { left: 295, top: 445, width: 866, height: 330, outerBoundsMode: 'none', containLabel: false }
  ],
  xAxis: [xAxis(0, 80, 10, axisStartA, 26), xAxis(1, 50, 5, axisStartB, 28)],
  yAxis: [yAxis(0, yTicksA), yAxis(1, yTicksB)],
  series: seriesA.concat(seriesB),
  graphic: [
    { type: 'rect', silent: true, shape: { x: 7.5, y: 5.5, width: 1345, height: 970 },
      style: { fill: 'none', stroke: '#9c9c9c', lineWidth: 1 } },
    titleText(210, 32, 'A', 0, 17),
    titleText(204, 424, 'B', 0, 17),
    titleText(210, 197, 'Radiant Heat Flux [W]', -Math.PI / 2 * -1, 17),
    titleText(204, 590, 'Radiant Heat Flux [W]', Math.PI / 2, 17),
    titleText(695, 424, 'Date (dd/mm/yy)', 0, 15.5),
    titleText(695, 853, 'Date (dd/mm/yy)', 0, 15.5),
    {
      type: 'text', x: 18, y: 903, silent: true,
      style: {
        text: '{b|FIGURE 2 |} Radiant heat flux curves computed from SEVIRI data for the two long effusive events occurred between 22 January and 7 April 2014 {b|(A)} and from 7 July\nto 20 August 2014 {b|(B)}.',
        fontFamily: CAPTION_FONT, fontSize: 18, fill: '#222222', verticalAlign: 'middle', lineHeight: 27,
        rich: {
          b: { fontFamily: CAPTION_FONT, fontSize: 18, fontWeight: 'bold', fill: '#222222', lineHeight: 27 }
        }
      }
    }
  ]
});
</script>
</body>
</html>
